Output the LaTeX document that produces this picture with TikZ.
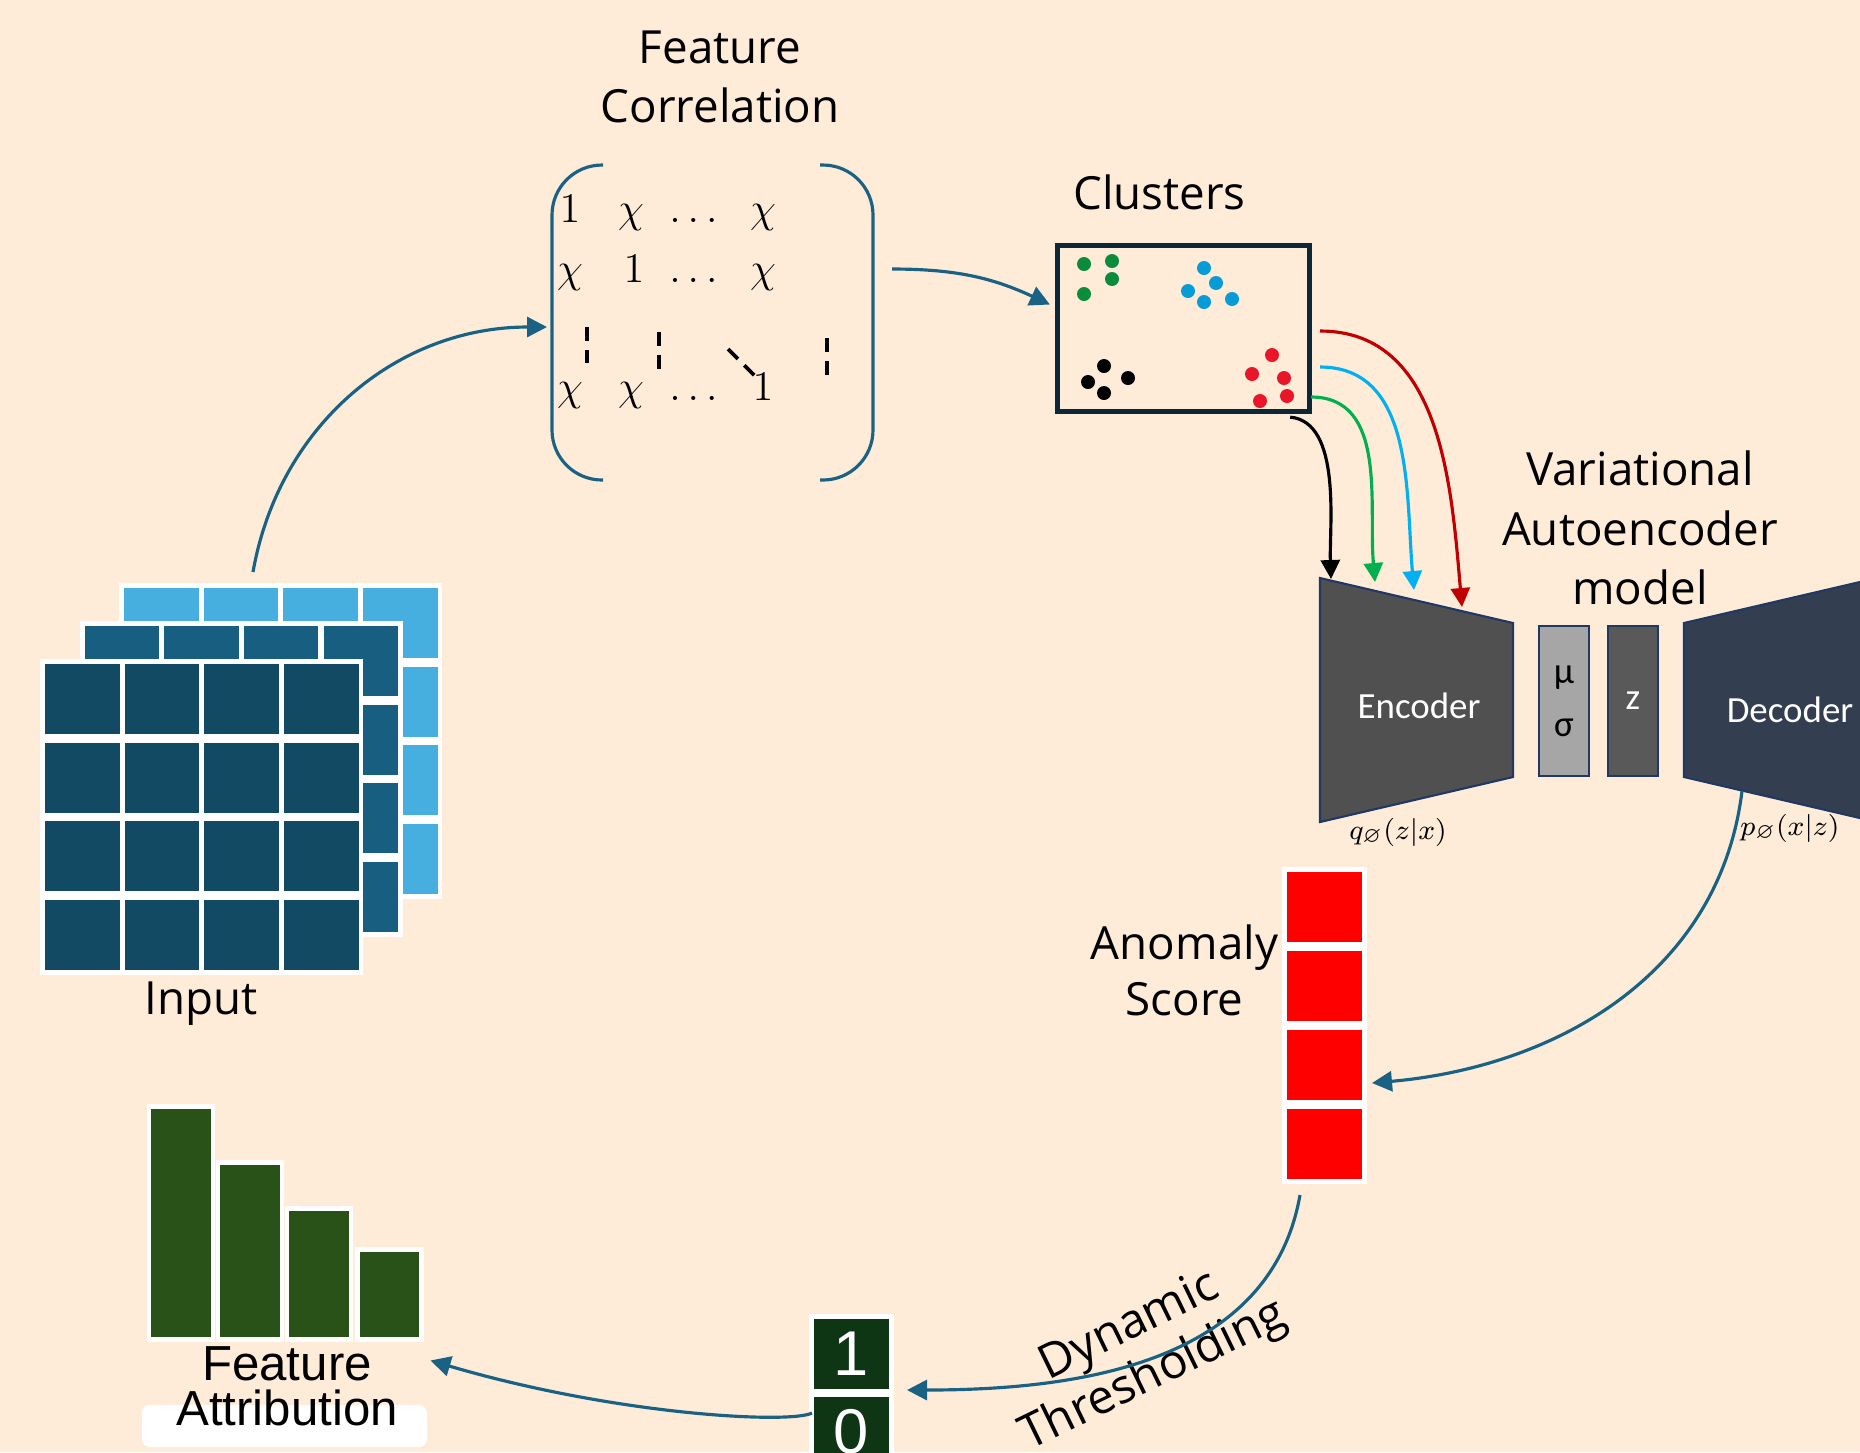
\documentclass[tikz,border=0pt]{standalone}
\usepackage{amsmath,amssymb}
\usepackage{fontspec}
\setmainfont{Open Sans}
\newfontfamily\calibri{Carlito}
\newfontfamily\arial{Liberation Sans}
\usepackage{tikz}
\usepackage{xcolor}
\definecolor{bg}{RGB}{254,236,217}
\definecolor{arrowblue}{RGB}{25,98,131}
\definecolor{navy}{RGB}{14,39,56}
\definecolor{inlight}{RGB}{71,175,223}
\definecolor{inmid}{RGB}{23,94,128}
\definecolor{indark}{RGB}{18,73,99}
\definecolor{encgray}{RGB}{80,80,80}
\definecolor{musiggray}{RGB}{166,166,166}
\definecolor{zgray}{RGB}{89,89,89}
\definecolor{decblue}{RGB}{51,63,80}
\definecolor{vaeline}{RGB}{32,56,100}
\definecolor{bitgreen}{RGB}{14,54,20}
\definecolor{bargreen}{RGB}{41,82,25}
\definecolor{cgreen}{RGB}{10,140,60}
\definecolor{cblue}{RGB}{8,156,214}
\definecolor{cred}{RGB}{232,22,40}
\definecolor{ared}{RGB}{192,0,0}
\definecolor{ablue}{RGB}{0,176,240}
\definecolor{agreen}{RGB}{0,176,80}
\newcommand{\lbl}{\fontsize{13}{17}\selectfont}
\newcommand{\vaefont}{\calibri\fontsize{10.5}{12}\selectfont}
\newcommand{\bitfont}{\arial\fontsize{18}{20}\selectfont}
\newcommand{\attrfont}{\arial\fontsize{14}{12.8}\selectfont}
\tikzstyle{lbltext} = [align=center, font=\lbl, inner sep=0pt]
\tikzstyle{flow} = [line width=0.9pt, draw=arrowblue, ->, >={Triangle[length=2mm,width=2mm]}]
\tikzstyle{clink} = [line width=0.9pt, ->, >={Triangle[length=1.9mm,width=1.9mm]}]
\tikzstyle{cell} = [rectangle, draw=white, line width=1.42pt, minimum width=8mm, minimum height=7.5mm, inner sep=0pt]
\tikzstyle{attrbar} = [rectangle, fill=bargreen, draw=white, line width=1.42pt, minimum width=6.4mm, inner sep=0pt, anchor=south]
\tikzstyle{latent} = [rectangle, draw=vaeline, line width=0.6pt, minimum width=5mm, minimum height=15mm, inner sep=0pt, align=center, font=\vaefont]
\tikzstyle{entry} = [anchor=base, inner sep=0pt, font=\fontsize{13}{15}\selectfont]
\tikzstyle{matdash} = [line width=1.1pt, dash pattern=on 1.4mm off 0.9mm]
\usetikzlibrary{arrows.meta}

\begin{document}
\begin{tikzpicture}[x=0.1mm, y=0.1mm]
            \useasboundingbox (0,0) rectangle (1860,-1452);
            \fill[bg] (0,0) rectangle (1860,-1452);
            % input stack
            \foreach \dx/\dy/\col in {79/76/inlight, 39.5/38/inmid, 0/0/indark} {
                \fill[white] (40+\dx,-659+\dy) rectangle +(323,-316);
                \foreach \i in {0,...,3}
                    \foreach \j in {0,...,3}
                        \fill[\col] (45+\dx+79.7*\i,-664+\dy-78.7*\j) rectangle +(74.5,-70);
            }
            \node(input) [lbltext] at (201,-1004) {Input};
            \coordinate(stacktop) at (253,-572);
            % feature correlation
            \node(corrtitle) [lbltext] at (720,-77) {Feature\\Correlation};
            \node(corr) [minimum width=32.1mm, minimum height=31.5mm, inner sep=0pt, outer sep=0pt] at (712.5,-322.5) {};
            \draw[arrowblue, line width=0.9pt, rounded corners=5mm] ([xshift=5.1mm]corr.north west) -- (corr.north west) -- (corr.south west) -- ([xshift=5.1mm]corr.south west);
            \draw[arrowblue, line width=0.9pt, rounded corners=5mm] ([xshift=-5.3mm]corr.north east) -- (corr.north east) -- (corr.south east) -- ([xshift=-5.3mm]corr.south east);
            \foreach \x/\e in {570/1, 631/\chi, 697/\dots, 763/\chi} \node(ea\x) [entry] at (\x,-222) {$\e$};
            \foreach \x/\e in {570/\chi, 634/1, 697/\dots, 763/\chi} \node(eb\x) [entry] at (\x,-282) {$\e$};
            \foreach \x/\e in {570/\chi, 631/\chi, 697/\dots, 763/1} \node(ec\x) [entry] at (\x,-400) {$\e$};
            \draw[matdash] (587,-327) -- (587,-363);
            \draw[matdash] (659,-332) -- (659,-371);
            \draw[matdash] (728,-349) -- (756,-377);
            \draw[matdash] (827,-338) -- (827,-375);
            % clusters
            \node(clusters) [draw=navy, line width=1.5pt, minimum width=25.2mm, minimum height=16.6mm, inner sep=0pt] at (1183.5,-328.5) {};
            \node(clustitle) [lbltext, above of=clusters, node distance=13.6mm, xshift=-2.4mm] {Clusters};
            \foreach \p in {(1084,-264),(1112,-261),(1112,-279),(1084,-294)} \fill[cgreen] \p circle (7);
            \foreach \p in {(1204,-268),(1216,-283),(1188,-291),(1204,-302),(1232,-299)} \fill[cblue] \p circle (7);
            \foreach \p in {(1104,-366),(1088,-382),(1128,-378),(1104,-393)} \fill[black] \p circle (7);
            \foreach \p in {(1272,-355),(1252,-374),(1284,-378),(1287,-396),(1260,-401)} \fill[cred] \p circle (7);
            % VAE
            \node(vaetitle) [lbltext] at (1640,-528) {Variational\\Autoencoder\\model};
            \draw[vaeline, line width=0.6pt, fill=encgray] (1320,-578) -- (1513,-623) -- (1513,-777) -- (1320,-822) -- cycle;
            \node(encoder) [font=\vaefont, text=white] at (1419,-706) {Encoder};
            \node(qlbl) [font=\fontsize{8}{9}\selectfont] at (1398,-832) {$q_{\varnothing}(z|x)$};
            \node(musig) [latent, fill=musiggray] at (1564,-701) {μ\\[3pt]σ};
            \node(zbox) [latent, fill=zgray, text=white, right of=musig, node distance=6.9mm] {z};
            \draw[vaeline, line width=0.6pt, fill=decblue] (1684,-623) -- (1877,-578) -- (1877,-822) -- (1684,-777) -- cycle;
            \node(decoder) [font=\vaefont, text=white] at (1790,-710) {Decoder};
            \node(plbl) [font=\fontsize{8}{9}\selectfont] at (1790,-828) {$p_{\varnothing}(x|z)$};
            \coordinate(inblack) at (1331,-579);
            \coordinate(ingreen) at (1375,-582);
            \coordinate(inblue) at (1414,-590);
            \coordinate(inred) at (1462,-607);
            \coordinate(decout) at (1742,-791);
            \draw[clink, ared] ([xshift=0.8mm,yshift=-0.25mm]clusters.east) to[out=0,in=95] (inred);
            \draw[clink, ablue] ([xshift=0.8mm,yshift=-3.85mm]clusters.east) to[out=0,in=95] (inblue);
            \draw[clink, agreen] ([xshift=-0.1mm,yshift=-6.85mm]clusters.east) to[out=0,in=95] (ingreen);
            \draw[clink, black] ([xshift=-2.2mm,yshift=-0.3mm]clusters.south east) to[out=-5,in=92, looseness=0.8] (inblack);
            % anomaly score
            \node(s1) [cell, fill=red] at (1324.5,-907) {};
            \node(s2) [cell, fill=red, below of=s1, node distance=7.9mm] {};
            \node(s3) [cell, fill=red, below of=s2, node distance=7.9mm] {};
            \node(s4) [cell, fill=red, below of=s3, node distance=7.9mm] {};
            \node(scorelbl) [lbltext, font=\fontsize{13}{16}\selectfont, left of=s1, node distance=14mm, yshift=-6.3mm] {Anomaly\\Score};
            % thresholding
            \node(thlbl) [lbltext, font=\fontsize{13.5}{15.6}\selectfont, rotate=26] at (1142,-1352) {Dynamic\\Thresholding};
            \node(bit1) [cell, fill=bitgreen, text=white, font=\bitfont] at (851.5,-1354) {1};
            \node(bit0) [cell, fill=bitgreen, text=white, font=\bitfont, below of=bit1, node distance=7.8mm] {0};
            % feature attribution
            \node(bar1) [attrbar, minimum height=23.3mm] at (181,-1342) {};
            \node(bar2) [attrbar, minimum height=17.7mm] at (250,-1342) {};
            \node(bar3) [attrbar, minimum height=13.1mm] at (319,-1342) {};
            \node(bar4) [attrbar, minimum height=9mm] at (389,-1342) {};
            \node(attrbox) [fill=white, rounded corners=0.8mm, minimum width=28.5mm, minimum height=4.2mm, inner sep=0pt] at (284.5,-1426) {};
            \node(attr) [lbltext, font=\attrfont] at (287,-1386) {Feature\\Attribution};
            % connectors
            \draw[flow] (stacktop) to[out=80,in=180] ([xshift=-0.5mm,yshift=-0.45mm]corr.west);
            \draw[flow] ([xshift=1.9mm,yshift=5.35mm]corr.east) to[out=0,in=155] ([xshift=-0.5mm,yshift=2.4mm]clusters.west);
            \draw[flow] (decout) to[out=-97,in=5] ([xshift=0.5mm,yshift=-1.8mm]s3.east);
            \draw[flow] ([xshift=-2.45mm,yshift=-1.1mm]s4.south) to[out=-100,in=0] ([xshift=1.3mm,yshift=-3.6mm]bit1.east);
            \draw[flow] ([xshift=0.3mm,yshift=1.9mm]bit0.west) .. controls +(-2.2mm,-1.1mm) and +(18.7mm,-5.5mm) .. ([xshift=3.2mm,yshift=2.55mm]attr.east);
        \end{tikzpicture}
\end{document}
